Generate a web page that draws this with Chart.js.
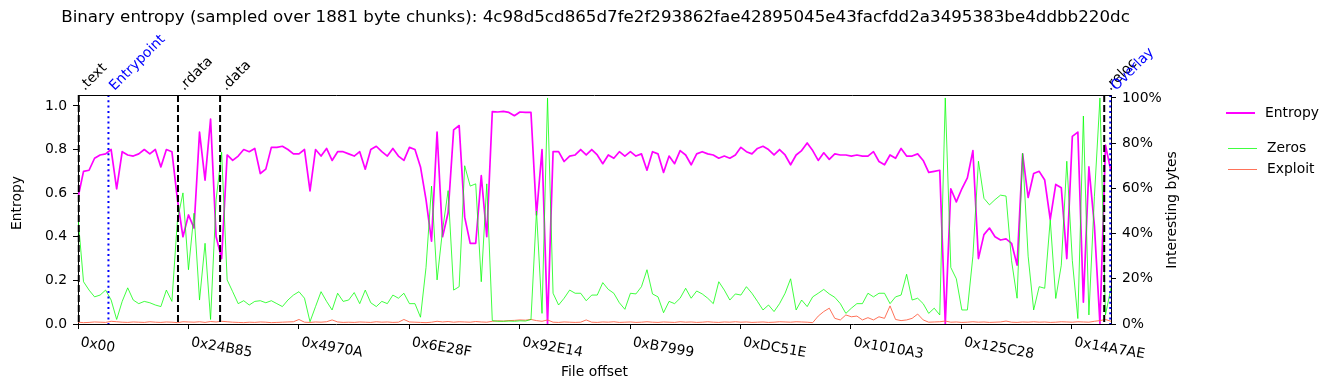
<!DOCTYPE html>
<html lang="en">
<head>
  <meta charset="UTF-8">
  <title>Binary entropy</title>
  <script src="https://cdn.jsdelivr.net/npm/chart.js"></script>
  <style>
    html, body { margin: 0; padding: 0; background: #fff; }
    #wrap { width: 1335px; height: 390px; position: relative; }
  </style>
</head>
<body>
  <div id="wrap"><canvas id="entropyChart"></canvas></div>

  <script>
    // sampling: one point every four 1881 byte chunks
    const CHUNK = 1881;
    const STEP = 4 * CHUNK;
    const sampleHash = '4c98d5cd865d7fe2f293862fae42895045e43facfdd2a3495383be4ddbb220dc';

    const xTickOffsets = [0x00, 0x24B85, 0x4970A, 0x6E28F, 0x92E14, 0xB7999, 0xDC51E, 0x1010A3, 0x125C28, 0x14A7AE];
    const leftTicks = [0, 0.2, 0.4, 0.6, 0.8, 1.0];
    const rightTicks = [0, 0.2, 0.4, 0.6, 0.8, 1.0];

    const sectionNames = ['.text', '.rdata', '.data', '.reloc'];
    const sectionOffsets = [0x400, 0x21400, 0x2F400, 0x155400];
    const markerNames = ['Entrypoint', 'Overlay'];
    const markerOffsets = [0xA200, 0x157400];

    const entropy = [
      0.58, 0.70, 0.705, 0.76, 0.775, 0.78, 0.80, 0.62, 0.79, 0.775,
      0.77, 0.78, 0.80, 0.78, 0.80, 0.72, 0.80, 0.79, 0.57, 0.40,
      0.50, 0.44, 0.88, 0.66, 0.94, 0.40, 0.30, 0.775, 0.75, 0.77,
      0.80, 0.79, 0.805, 0.69, 0.71, 0.81, 0.81, 0.815, 0.80, 0.78,
      0.78, 0.80, 0.61, 0.80, 0.77, 0.805, 0.75, 0.79, 0.79, 0.78,
      0.77, 0.79, 0.71, 0.80, 0.815, 0.79, 0.77, 0.805, 0.77, 0.75,
      0.81, 0.80, 0.72, 0.57, 0.38, 0.88, 0.40, 0.51, 0.89, 0.91,
      0.49, 0.37, 0.37, 0.68, 0.40, 0.974, 0.972, 0.975, 0.97, 0.955,
      0.972, 0.97, 0.97, 0.50, 0.80, 0.0, 0.79, 0.79, 0.745, 0.77,
      0.775, 0.80, 0.775, 0.80, 0.775, 0.735, 0.775, 0.76, 0.79, 0.77,
      0.79, 0.77, 0.78, 0.705, 0.79, 0.78, 0.695, 0.77, 0.735, 0.795,
      0.775, 0.73, 0.78, 0.79, 0.78, 0.775, 0.76, 0.77, 0.76, 0.775,
      0.81, 0.79, 0.78, 0.805, 0.815, 0.80, 0.775, 0.80, 0.775, 0.73,
      0.775, 0.795, 0.83, 0.795, 0.75, 0.785, 0.755, 0.78, 0.775, 0.775,
      0.77, 0.775, 0.77, 0.77, 0.79, 0.745, 0.73, 0.775, 0.76, 0.805,
      0.77, 0.77, 0.78, 0.75, 0.695, 0.70, 0.705, 0.0, 0.62, 0.56,
      0.62, 0.67, 0.795, 0.30, 0.41, 0.44, 0.40, 0.385, 0.39, 0.37,
      0.27, 0.78, 0.58, 0.69, 0.70, 0.66, 0.48, 0.64, 0.625, 0.30,
      0.86, 0.88, 0.10, 0.72, 0.45, 0.0, 0.82, 0.70
    ];

    const zeros = [
      0.47, 0.187, 0.15, 0.12, 0.128, 0.15, 0.106, 0.02, 0.10, 0.16,
      0.106, 0.09, 0.10, 0.094, 0.084, 0.077, 0.15, 0.10, 0.46, 0.58,
      0.24, 0.49, 0.106, 0.357, 0.02, 0.55, 0.76, 0.195, 0.143, 0.09,
      0.103, 0.084, 0.10, 0.103, 0.094, 0.103, 0.09, 0.077, 0.106, 0.128,
      0.143, 0.114, 0.01, 0.077, 0.143, 0.10, 0.062, 0.136, 0.10, 0.106,
      0.139, 0.09, 0.15, 0.094, 0.077, 0.10, 0.09, 0.128, 0.114, 0.136,
      0.09, 0.09, 0.03, 0.25, 0.61, 0.195, 0.416, 0.59, 0.15, 0.165,
      0.70, 0.61, 0.62, 0.187, 0.62, 0.015, 0.012, 0.012, 0.013, 0.012,
      0.014, 0.013, 0.02, 0.50, 0.047, 1.0, 0.136, 0.084, 0.114, 0.15,
      0.136, 0.136, 0.103, 0.128, 0.128, 0.183, 0.153, 0.136, 0.094, 0.065,
      0.136, 0.133, 0.165, 0.24, 0.133, 0.12, 0.05, 0.10, 0.09, 0.114,
      0.158, 0.114, 0.146, 0.133, 0.114, 0.09, 0.187, 0.15, 0.106, 0.133,
      0.128, 0.165, 0.136, 0.10, 0.062, 0.084, 0.055, 0.09, 0.136, 0.20,
      0.062, 0.106, 0.077, 0.12, 0.136, 0.153, 0.133, 0.118, 0.09, 0.047,
      0.07, 0.09, 0.09, 0.136, 0.12, 0.136, 0.136, 0.09, 0.12, 0.128,
      0.22, 0.106, 0.114, 0.09, 0.047, 0.07, 0.04, 1.0, 0.25, 0.20,
      0.062, 0.062, 0.30, 0.72, 0.556, 0.527, 0.55, 0.57, 0.566, 0.28,
      0.114, 0.755, 0.30, 0.062, 0.165, 0.158, 0.46, 0.113, 0.26, 0.72,
      0.28, 0.024, 0.92, 0.04, 0.565, 1.0, 0.04, 0.16
    ];

    const exploit = [
      0.008, 0.006, 0.007, 0.009, 0.008, 0.007, 0.012, 0.010, 0.008, 0.007,
      0.009, 0.008, 0.007, 0.010, 0.008, 0.007, 0.009, 0.008, 0.006, 0.010,
      0.009, 0.008, 0.010, 0.007, 0.011, 0.009, 0.012, 0.010, 0.008, 0.007,
      0.006, 0.008, 0.007, 0.009, 0.008, 0.006, 0.007, 0.008, 0.009, 0.010,
      0.020, 0.008, 0.007, 0.009, 0.008, 0.010, 0.018, 0.009, 0.007, 0.008,
      0.007, 0.009, 0.008, 0.007, 0.010, 0.008, 0.009, 0.007, 0.008, 0.020,
      0.009, 0.008, 0.007, 0.006, 0.008, 0.012, 0.009, 0.011, 0.008, 0.010,
      0.009, 0.008, 0.011, 0.009, 0.008, 0.012, 0.014, 0.013, 0.015, 0.016,
      0.018, 0.017, 0.020, 0.015, 0.012, 0.018, 0.008, 0.007, 0.009, 0.008,
      0.007, 0.008, 0.018, 0.008, 0.007, 0.009, 0.008, 0.010, 0.007, 0.008,
      0.009, 0.007, 0.008, 0.010, 0.008, 0.007, 0.009, 0.008, 0.007, 0.010,
      0.008, 0.009, 0.007, 0.008, 0.010, 0.008, 0.007, 0.009, 0.008, 0.010,
      0.008, 0.009, 0.007, 0.008, 0.009, 0.007, 0.008, 0.010, 0.009, 0.008,
      0.010, 0.009, 0.008, 0.006, 0.035, 0.055, 0.070, 0.025, 0.018, 0.040,
      0.032, 0.035, 0.018, 0.028, 0.018, 0.032, 0.025, 0.080, 0.020, 0.015,
      0.018, 0.025, 0.044, 0.018, 0.008, 0.009, 0.010, 0.013, 0.008, 0.009,
      0.007, 0.008, 0.010, 0.008, 0.009, 0.007, 0.008, 0.009, 0.013, 0.008,
      0.007, 0.009, 0.008, 0.010, 0.008, 0.009, 0.007, 0.008, 0.010, 0.009,
      0.008, 0.010, 0.009, 0.008, 0.012, 0.015, 0.020, 0.012
    ];

    const X_MAX = (entropy.length - 1) * STEP;
    const FONT = '"DejaVu Sans", sans-serif';
    const black = '#000000';
    const entropyColor = '#ff00ff';
    const zerosColor = 'rgba(0, 255, 0, 0.75)';
    const exploitColor = 'rgba(255, 99, 71, 0.9)';

    Chart.defaults.font.family = FONT;
    Chart.defaults.font.size = 13.9;
    Chart.defaults.color = black;

    const toPoints = arr => arr.map((v, i) => ({ x: i * STEP, y: v }));
    const hexLabel = v => '0x' + v.toString(16).toUpperCase().padStart(2, '0');

    // everything matplotlib draws outside the plot box
    const decor = {
      id: 'decor',
      afterDatasetsDraw(chart) {
        const { ctx, chartArea: a, scales: { x } } = chart;
        ctx.save();
        ctx.lineWidth = 2;
        ctx.strokeStyle = black;
        ctx.setLineDash([7, 3]);
        sectionOffsets.forEach(off => {
          const px = x.getPixelForValue(off);
          ctx.beginPath(); ctx.moveTo(px, a.top); ctx.lineTo(px, a.bottom); ctx.stroke();
        });
        ctx.strokeStyle = '#0000ff';
        ctx.setLineDash([2, 3.3]);
        markerOffsets.forEach(off => {
          const px = x.getPixelForValue(off);
          ctx.beginPath(); ctx.moveTo(px, a.top); ctx.lineTo(px, a.bottom); ctx.stroke();
        });
        ctx.restore();
      },
      afterDraw(chart) {
        const { ctx, chartArea: a, scales: { x } } = chart;
        ctx.save();
        // top spine
        ctx.strokeStyle = black;
        ctx.lineWidth = 1;
        ctx.beginPath(); ctx.moveTo(a.left, a.top + 0.5); ctx.lineTo(a.right, a.top + 0.5); ctx.stroke();

        ctx.fillStyle = black;
        ctx.textBaseline = 'middle';
        ctx.textAlign = 'center';
        ctx.font = '16.7px ' + FONT;
        ctx.fillText('Binary entropy (sampled over ' + CHUNK + ' byte chunks): ' + sampleHash,
          (a.left + a.right) / 2 + 1, 18);

        ctx.font = '13.9px ' + FONT;
        ctx.fillText('File offset', (a.left + a.right) / 2, 372);

        ctx.save();
        ctx.translate(17, 203);
        ctx.rotate(-Math.PI / 2);
        ctx.fillText('Entropy', 0, 0);
        ctx.restore();

        ctx.save();
        ctx.translate(1172, 210);
        ctx.rotate(-Math.PI / 2);
        ctx.fillText('Interesting bytes', 0, 0);
        ctx.restore();

        // slanted x tick labels
        ctx.textAlign = 'left';
        ctx.textBaseline = 'alphabetic';
        xTickOffsets.forEach(off => {
          ctx.save();
          ctx.translate(x.getPixelForValue(off) + 2, 346);
          ctx.rotate(10 * Math.PI / 180);
          ctx.fillText(hexLabel(off), 0, 0);
          ctx.restore();
        });

        // section and marker names above the plot
        const drawName = (name, off, color) => {
          ctx.save();
          ctx.fillStyle = color;
          ctx.translate(x.getPixelForValue(off) + 6, a.top - 4);
          ctx.rotate(-Math.PI / 4);
          ctx.fillText(name, 0, 0);
          ctx.restore();
        };
        sectionNames.forEach((n, i) => drawName(n, sectionOffsets[i], black));
        markerNames.forEach((n, i) => drawName(n, markerOffsets[i], '#0000ff'));

        // legends (one per axis)
        const legendRows = [
          { label: 'Entropy', color: entropyColor, width: 2, y: 113, x0: 1226 },
          { label: 'Zeros', color: zerosColor, width: 1, y: 148.5, x0: 1228 },
          { label: 'Exploit', color: exploitColor, width: 1, y: 169.5, x0: 1228 }
        ];
        ctx.textBaseline = 'middle';
        legendRows.forEach(r => {
          ctx.strokeStyle = r.color;
          ctx.lineWidth = r.width;
          ctx.beginPath(); ctx.moveTo(r.x0, r.y); ctx.lineTo(r.x0 + 29, r.y); ctx.stroke();
          ctx.fillStyle = black;
          ctx.fillText(r.label, r.x0 + 39, r.y);
        });
        ctx.restore();
      }
    };

    const tickGrid = { drawOnChartArea: false, drawTicks: true, tickLength: 5, color: black };

    new Chart(document.getElementById('entropyChart'), {
      type: 'line',
      data: {
        datasets: [
          { label: 'Zeros', data: toPoints(zeros), yAxisID: 'y2', borderColor: zerosColor, borderWidth: 1 },
          { label: 'Exploit', data: toPoints(exploit), yAxisID: 'y2', borderColor: exploitColor, borderWidth: 1 },
          { label: 'Entropy', data: toPoints(entropy), yAxisID: 'y', borderColor: entropyColor, borderWidth: 1.7 }
        ]
      },
      options: {
        responsive: true,
        maintainAspectRatio: false,
        devicePixelRatio: 1,
        animation: false,
        events: [],
        layout: { padding: { top: 95, left: 0, right: 0, bottom: 0 } },
        elements: {
          point: { radius: 0 },
          line: { tension: 0, fill: false, borderJoinStyle: 'round' }
        },
        plugins: {
          legend: { display: false },
          tooltip: { enabled: false }
        },
        scales: {
          x: {
            type: 'linear',
            min: 0,
            max: X_MAX,
            afterBuildTicks: s => { s.ticks = xTickOffsets.map(v => ({ value: v })); },
            afterFit: s => { s.height = 66; },
            ticks: { display: false },
            grid: tickGrid,
            border: { color: black, width: 1 }
          },
          y: {
            position: 'left',
            min: 0,
            max: 1.05,
            afterBuildTicks: s => { s.ticks = leftTicks.map(v => ({ value: v })); },
            afterFit: s => { s.width = 78; },
            ticks: { padding: 6, callback: v => v.toFixed(1) },
            grid: tickGrid,
            border: { color: black, width: 1 }
          },
          y2: {
            position: 'right',
            min: 0,
            max: 1.013,
            afterBuildTicks: s => { s.ticks = rightTicks.map(v => ({ value: v })); },
            afterFit: s => { s.width = 224; },
            ticks: { padding: 6, callback: v => Math.round(v * 100) + '%' },
            grid: tickGrid,
            border: { color: black, width: 1 }
          }
        }
      },
      plugins: [decor]
    });
  </script>
</body>
</html>
